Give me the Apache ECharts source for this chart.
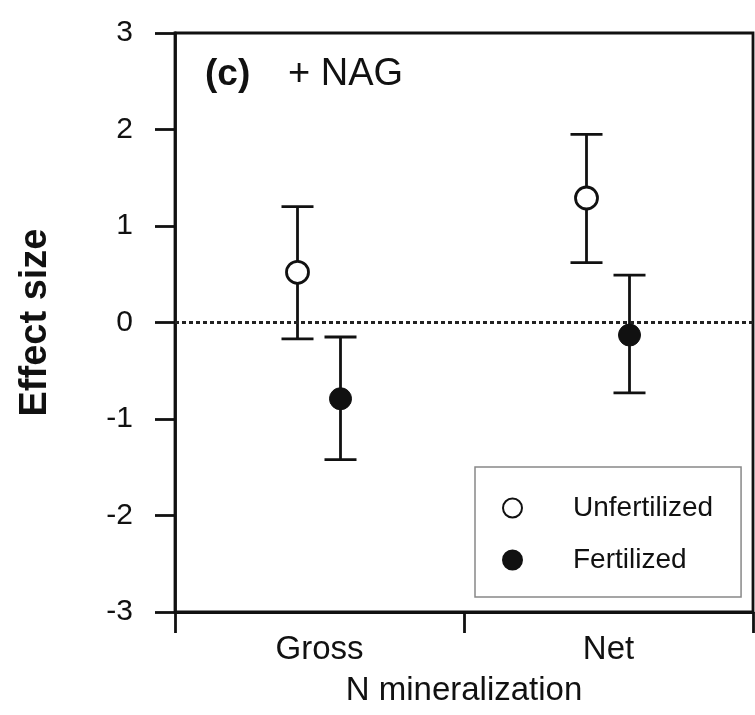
<!DOCTYPE html>
<html>
<head>
<meta charset="utf-8">
<script src="https://cdn.jsdelivr.net/npm/echarts@6/dist/echarts.min.js"></script>
<style>
  html, body { margin: 0; padding: 0; background: #fff; }
  #chart { width: 755px; height: 715px; }
</style>
</head>
<body>
<div id="chart"></div>
<script>
// ---- data ----
const categories = ['Gross', 'Net'];
const unfertMean = [0.52, 1.29];
const unfertLow  = [-0.17, 0.62];
const unfertHigh = [1.20, 1.95];
const fertMean   = [-0.79, -0.13];
const fertLow    = [-1.42, -0.73];
const fertHigh   = [-0.15, 0.49];
const seriesNames = ['Unfertilized', 'Fertilized'];
const yMin = -3, yMax = 3, yStep = 1;

const FONT = '"Liberation Sans", Arial, Helvetica, sans-serif';
const INK = '#111';
const OFF_U = -22, OFF_F = 21;

function errRender(offset) {
  return function (params, api) {
    const x = api.value(0);
    const lo = api.coord([x, api.value(1)]);
    const hi = api.coord([x, api.value(2)]);
    const cx = lo[0] + offset;
    const half = 16;
    const st = { stroke: INK, lineWidth: 2.8 };
    return {
      type: 'group',
      children: [
        { type: 'line', shape: { x1: cx, y1: lo[1], x2: cx, y2: hi[1] }, style: st },
        { type: 'line', shape: { x1: cx - half, y1: lo[1], x2: cx + half, y2: lo[1] }, style: st },
        { type: 'line', shape: { x1: cx - half, y1: hi[1], x2: cx + half, y2: hi[1] }, style: st }
      ]
    };
  };
}

const chart = echarts.init(document.getElementById('chart'), null, { renderer: 'canvas' });
chart.setOption({
  animation: false,
  backgroundColor: '#fff',
  grid: { left: 175, right: 2, top: 33, bottom: 103, show: true, borderColor: INK, borderWidth: 2.8, backgroundColor: 'transparent' },
  graphic: [
    { type: 'text', left: 205, top: 56, style: { text: '(c)', font: 'bold 37px ' + FONT, fill: INK } },
    { type: 'text', left: 288, top: 56, style: { text: '+ NAG', font: '38px ' + FONT, fill: INK } }
  ],
  legend: {
    data: seriesNames,
    orient: 'vertical',
    left: 475, top: 467,
    padding: [27, 28, 23, 27],
    itemGap: 24,
    itemWidth: 19, itemHeight: 19,
    borderColor: '#888', borderWidth: 1.5,
    textStyle: { fontFamily: FONT, fontSize: 28, color: INK, padding: [0, 0, 0, 46] }
  },
  xAxis: {
    type: 'category',
    data: categories,
    boundaryGap: true,
    name: 'N mineralization',
    nameLocation: 'middle',
    nameGap: 62,
    nameTextStyle: { fontFamily: FONT, fontSize: 33, color: INK },
    axisLine: { show: true, onZero: false, lineStyle: { color: INK, width: 2.8 } },
    axisTick: { show: true, inside: false, length: 21, alignWithLabel: false, lineStyle: { color: INK, width: 2.8 } },
    axisLabel: { fontFamily: FONT, fontSize: 33, color: INK, margin: 21 },
    splitLine: { show: false }
  },
  yAxis: {
    type: 'value',
    min: yMin, max: yMax, interval: yStep,
    name: 'Effect size',
    nameLocation: 'middle',
    nameRotate: 90,
    nameGap: 120,
    nameTextStyle: { fontFamily: FONT, fontSize: 38, fontWeight: 'bold', color: INK },
    axisLine: { show: true, lineStyle: { color: INK, width: 2.8 } },
    axisTick: { show: true, inside: false, length: 20, lineStyle: { color: INK, width: 2.8 } },
    axisLabel: { fontFamily: FONT, fontSize: 30, color: INK, margin: 42 },
    splitLine: { show: false }
  },
  series: [
    {
      type: 'custom', name: 'errU', z: 2,
      renderItem: errRender(OFF_U),
      data: categories.map((c, i) => [i, unfertLow[i], unfertHigh[i]]),
      markLine: {
        silent: true, symbol: 'none', label: { show: false },
        lineStyle: { color: '#222', width: 3, type: [4, 3] },
        data: [{ yAxis: 0 }]
      }
    },
    {
      type: 'custom', name: 'errF', z: 2,
      renderItem: errRender(OFF_F),
      data: categories.map((c, i) => [i, fertLow[i], fertHigh[i]])
    },
    {
      type: 'scatter', name: seriesNames[0], z: 5,
      symbol: 'circle', symbolSize: 22, symbolOffset: [OFF_U, 0],
      itemStyle: { color: '#fff', borderColor: INK, borderWidth: 2.8, opacity: 1 },
      data: categories.map((c, i) => [i, unfertMean[i]])
    },
    {
      type: 'scatter', name: seriesNames[1], z: 5,
      symbol: 'circle', symbolSize: 22, symbolOffset: [OFF_F, 0],
      itemStyle: { color: INK, borderColor: INK, borderWidth: 1, opacity: 1 },
      data: categories.map((c, i) => [i, fertMean[i]])
    }
  ]
});
</script>
</body>
</html>
